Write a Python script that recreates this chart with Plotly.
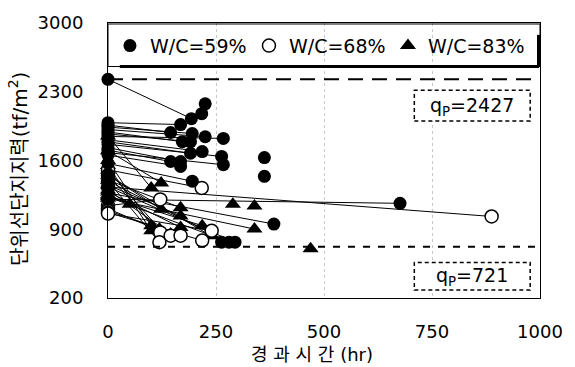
import plotly.graph_objects as go

# ---------------- data ----------------
# W/C=59% (filled circles): value at t=0, time of later test (hr), value of later test
wc59_start = [2427, 1985, 1960, 1940, 1915, 1890, 1870, 1845, 1810, 1790, 1765, 1730, 1705,
              1680, 1655, 1570, 1205, 1270, 1450, 1390, 1330, None, None, None, None]
wc59_time = [193, 168, 145, 195, 225, 172, 191, 267, 218, 191, 263, 168, 145,
             267, 168, 195, 676, 384, 263, 280, 294, 225, 217, 362, 362]
wc59_value = [2026, 1966, 1885, 1875, 1842, 1792, 1792, 1825, 1691, 1674, 1641, 1590, 1590,
              1557, 1540, 1389, 1164, 953, 768, 768, 768, 2177, 2077, 1630, 1439]

# W/C=68% (open circles)
wc68_start = [1505, 1330, 1140, 1450, 1390, 1110, 1090, 1070, 1060]
wc68_time = [217, 888, 121, 121, 119, 145, 168, 218, 240]
wc68_value = [1321, 1030, 1204, 868, 768, 835, 835, 785, 885]

# W/C=83% (triangles)
wc83_start = [1850, 1700, 1250, 1450, 1400, 1350, 1600, 1550, 1500, 1300, 1280, 1240, 1230,
              1215, None, None, None]
wc83_time = [100, 123, 50, 123, 168, 168, 100, 100, 119, 145, 168, 218, 240,
             339, 289, 339, 469]
wc83_value = [1321, 1372, 1154, 1104, 1120, 1036, 936, 885, 902, 852, 919, 936, 835,
              902, 1154, 1137, 701]

qp_upper = 2427
qp_lower = 721

x_ticks = [0, 250, 500, 750, 1000]
y_ticks = [200, 900, 1600, 2300, 3000]

labels = ["W/C=59%", "W/C=68%", "W/C=83%"]

FONT = "DejaVu Sans, Noto Sans CJK KR, sans-serif"


def build(start, time, value):
    lx, ly, mx, my = [], [], [], []
    for s, t, v in zip(start, time, value):
        if s is not None:
            lx += [0, t, None]
            ly += [s, v, None]
            mx.append(0)
            my.append(s)
        mx.append(t)
        my.append(v)
    return lx, ly, mx, my


fig = go.Figure()

groups = [
    (wc83_start, wc83_time, wc83_value, labels[2],
     dict(symbol="triangle-up", size=14, color="black"), 3),
    (wc68_start, wc68_time, wc68_value, labels[1],
     dict(symbol="circle", size=13, color="white", line=dict(width=1.5, color="black")), 2),
    (wc59_start, wc59_time, wc59_value, labels[0],
     dict(symbol="circle", size=13, color="black"), 1),
]

# connecting lines first
for s, t, v, name, mk, rank in groups:
    lx, ly, _, _ = build(s, t, v)
    fig.add_trace(go.Scatter(x=lx, y=ly, mode="lines", line=dict(color="black", width=1),
                             showlegend=False, hoverinfo="skip", cliponaxis=False))

for s, t, v, name, mk, rank in groups:
    _, _, mx, my = build(s, t, v)
    fig.add_trace(go.Scatter(x=mx, y=my, mode="markers", name=name, marker=mk,
                             legendrank=rank, cliponaxis=False))

ph = 278.0  # plot height px


def py(px):
    return 1 - (px - 20) / ph


def pxx(px):
    return (px - 108) / 440.0


shapes = [
    # legend box
    dict(type="rect", xref="paper", yref="paper", x0=0, x1=1, y0=py(64), y1=py(21),
         line=dict(color="black", width=1), fillcolor="rgba(0,0,0,0)"),
    dict(type="line", xref="paper", yref="paper", x0=pxx(120), x1=pxx(547), y0=py(64), y1=py(64),
         line=dict(color="black", width=3)),
    dict(type="line", xref="paper", yref="paper", x0=pxx(546.5), x1=pxx(546.5), y0=py(32), y1=py(64),
         line=dict(color="black", width=3)),
    # qp lines
    dict(type="line", xref="x", yref="y", x0=0, x1=1000, y0=qp_upper, y1=qp_upper,
         line=dict(color="black", width=2, dash="15px,9px")),
    dict(type="line", xref="x", yref="y", x0=0, x1=1000, y0=qp_lower, y1=qp_lower,
         line=dict(color="black", width=2, dash="7px,8px")),
    # qp boxes
    dict(type="rect", xref="paper", yref="paper", x0=pxx(420), x1=pxx(538), y0=py(119), y1=py(88),
         line=dict(color="black", width=1.5, dash="4px,3px"), fillcolor="white"),
    dict(type="rect", xref="paper", yref="paper", x0=pxx(420), x1=pxx(538), y0=py(290), y1=py(262),
         line=dict(color="black", width=1.5, dash="4px,3px"), fillcolor="white"),
]

annotations = [
    dict(text="q<sub>P</sub>=%d" % qp_upper, xref="paper", yref="paper", x=pxx(479), y=py(104),
         showarrow=False, font=dict(family=FONT, size=19, color="black"),
         xanchor="center", yanchor="middle"),
    dict(text="q<sub>P</sub>=%d" % qp_lower, xref="paper", yref="paper", x=pxx(479), y=py(276),
         showarrow=False, font=dict(family=FONT, size=19, color="black"),
         xanchor="center", yanchor="middle"),
    dict(text="단위선단지지력(tf/m<sup>2</sup>)", xref="paper", yref="paper", x=pxx(17), y=py(168),
         textangle=-90, showarrow=False, font=dict(family=FONT, size=20, color="black"),
         xanchor="center", yanchor="middle"),
    dict(text="경 과 시 간 (hr)", xref="paper", yref="paper", x=pxx(316), y=py(355),
         showarrow=False, font=dict(family=FONT, size=18, color="black"),
         xanchor="center", yanchor="middle"),
]

fig.update_layout(
    width=575, height=367,
    margin=dict(l=108, r=27, t=20, b=69),
    paper_bgcolor="white", plot_bgcolor="white",
    font=dict(family=FONT, color="black"),
    shapes=shapes, annotations=annotations,
    showlegend=True,
    legend=dict(orientation="h", x=pxx(110), xanchor="left", y=py(43), yanchor="middle",
                entrywidth=94, entrywidthmode="pixels", traceorder="normal",
                bgcolor="rgba(0,0,0,0)", font=dict(family=FONT, size=19, color="black"),
                itemclick=False),
    xaxis=dict(range=[0, 1000], tickvals=x_ticks, ticktext=[str(v) for v in x_ticks],
               showline=True, linecolor="black", linewidth=1, mirror=True,
               showgrid=True, gridcolor="#c8c8c8", griddash="dot", gridwidth=1,
               zeroline=False, ticks="", tickfont=dict(family=FONT, size=18, color="black"),
               ticklabelstandoff=17),
    yaxis=dict(range=[200, 3000], tickvals=y_ticks, ticktext=[str(v) for v in y_ticks],
               showline=True, linecolor="black", linewidth=1, mirror=True,
               showgrid=False, zeroline=False, ticks="",
               tickfont=dict(family=FONT, size=18, color="black"), ticklabelstandoff=20),
)

fig.write_html("out.html")
